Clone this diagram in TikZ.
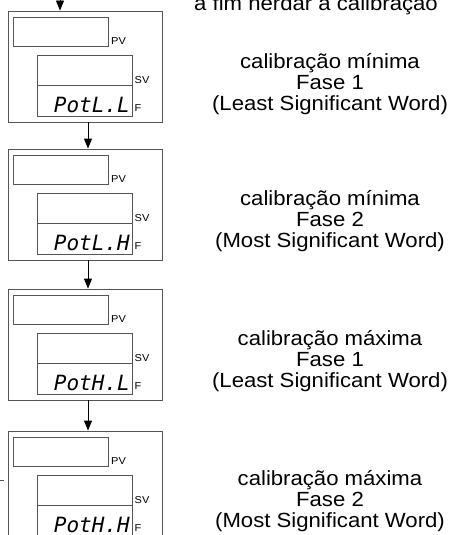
\documentclass[tikz,border=0pt]{standalone}
\usepackage{fontspec}
\setmainfont{Liberation Sans}[FakeStretch=1.08]
\newfontfamily\segfont{DejaVu Sans Mono Oblique}
\newfontfamily\lblfont{Liberation Sans}[FakeStretch=1.1]
\usetikzlibrary{arrows.meta}
\definecolor{boxgray}{RGB}{85,85,85}
\begin{document}
\begin{tikzpicture}[x=1pt,y=-1pt,
  outerbox/.style={draw=boxgray,line width=0.9pt,minimum width=154pt,minimum height=111pt,inner sep=0pt},
  pvbox/.style={draw=boxgray,line width=0.9pt,minimum width=95pt,minimum height=29pt,inner sep=0pt},
  svbox/.style={draw=boxgray,line width=0.9pt,minimum width=95pt,minimum height=30pt,inner sep=0pt},
  fbox/.style={draw=boxgray,line width=0.9pt,minimum width=95pt,minimum height=31pt,inner sep=0pt},
  lbl/.style={font=\lblfont\fontsize{10}{11}\selectfont,inner sep=0pt,anchor=base west},
  seg/.style={font=\segfont\fontsize{21}{21}\selectfont,inner sep=0pt,anchor=base east},
  rtxt/.style={font=\fontsize{20.5}{21}\selectfont,inner sep=0pt,anchor=base},
  arr/.style={draw=black,line width=0.9pt,-{Triangle[width=8pt,length=10pt]}}]
\useasboundingbox (0,0) rectangle (450,535);
\foreach \i/\t/\s in {1/11/PotL.L,2/149/PotL.H,3/289/PotH.L,4/431/PotH.H}{
  \node[outerbox] (b\i) at (85,{\t+55.5}) {};
  \node[pvbox] (pv\i) at (60.5,{\t+20.5}) {};
  \node[svbox] (sv\i) at (84.5,{\t+59}) {};
  \node[fbox] (f\i) at (84.5,{\t+89.5}) {};
  \node[lbl] (pvl\i) at (111,{\t+33.5}) {PV};
  \node[lbl] (svl\i) at (134.5,{\t+72}) {SV};
  \node[lbl] (fl\i) at (134.5,{\t+100}) {F};
  \node[seg] (v\i) at (130,{\t+101}) {\s};
}
\coordinate (top) at (60,-8);
\draw[arr] (top) -- ([xshift=-25pt]b1.north);
\draw[arr] ([xshift=3pt]b1.south) -- ([xshift=3pt]b2.north);
\draw[arr] ([xshift=3pt]b2.south) -- ([xshift=3pt]b3.north);
\draw[arr] ([xshift=3pt]b3.south) -- ([xshift=3pt]b4.north);
\coordinate (dashA) at (0,480);
\coordinate (dashB) at (4,480);
\draw[boxgray,line width=0.9pt] (dashA) -- (dashB);
\node[rtxt] (t0) at (316,11) {a fim herdar a calibração};
\foreach \j/\y/\a/\b/\c in {1/68/calibração mínima/Fase 1/(Least Significant Word),
  2/205/calibração mínima/Fase 2/(Most Significant Word),
  3/345/calibração máxima/Fase 1/(Least Significant Word),
  4/485/calibração máxima/Fase 2/(Most Significant Word)}{
  \node[rtxt] (ra\j) at (330,\y) {\a};
  \node[rtxt] (rb\j) at (330,{\y+21}) {\b};
  \node[rtxt] (rc\j) at (330,{\y+42}) {\c};
}
\end{tikzpicture}
\end{document}
